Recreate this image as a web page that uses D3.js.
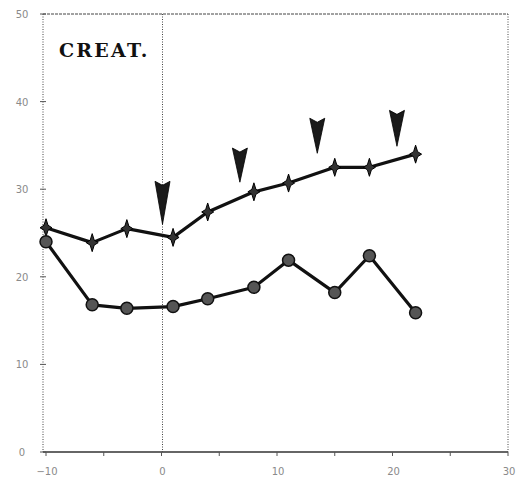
<!DOCTYPE html>
<html>
<head>
<meta charset="utf-8">
<script src="https://cdn.jsdelivr.net/npm/d3@7"></script>
<style>
  body { margin: 0; background: #fff; }
  .tick-label { font-family: "DejaVu Sans", sans-serif; font-size: 10px; fill: #8a8a8a; }
</style>
</head>
<body>
<div id="chart"></div>
<script>
// days relative to event, and the two CREAT. series
var days = [-10, -6, -3, 1, 4, 8, 11, 15, 18, 22];
var upperSeries = [25.6, 23.9, 25.5, 24.5, 27.4, 29.7, 30.7, 32.5, 32.5, 34.0];
var lowerSeries = [24.0, 16.8, 16.4, 16.6, 17.5, 18.8, 21.9, 18.2, 22.4, 15.9];

// arrow annotations: day, tip level, top level
var arrowDays = [0, 6.7, 13.4, 20.3];
var arrowTips = [26.0, 30.8, 34.1, 34.9];
var arrowTops = [30.9, 34.7, 38.1, 39.0];

var xTicks = [-10, 0, 10, 20, 30];
var xMinorTicks = [-10, -5, 0, 5, 10, 15, 20, 25, 30];
var yTicks = [0, 10, 20, 30, 40, 50];

window.onload = function () {
    const width = 517;
    const height = 483;

    var svg = d3.select('#chart').append('svg')
        .attr('width', width)
        .attr('height', height);

    var x = d3.scaleLinear().domain([-10, 30]).range([46, 508]);
    var y = d3.scaleLinear().domain([0, 50]).range([452, 14]);

    // frame (dotted, like the scan)
    var frame = svg.append('g')
        .attr('stroke', '#444')
        .attr('stroke-width', 1)
        .attr('fill', 'none');
    frame.append('line')
        .attr('x1', x(-10) - 3).attr('x2', x(30))
        .attr('y1', y(50)).attr('y2', y(50))
        .attr('stroke-dasharray', '3,1');
    frame.append('line')
        .attr('x1', x(-10) - 3).attr('x2', x(-10) - 3)
        .attr('y1', y(50)).attr('y2', y(0))
        .attr('stroke-dasharray', '1,1.5');
    frame.append('line')
        .attr('x1', x(30)).attr('x2', x(30))
        .attr('y1', y(50)).attr('y2', y(0))
        .attr('stroke-dasharray', '1,1.5');
    frame.append('line')
        .attr('x1', x(0) + 1).attr('x2', x(0) + 1)
        .attr('y1', y(50)).attr('y2', y(0))
        .attr('stroke-dasharray', '1,1.5');

    // bottom axis
    svg.append('line')
        .attr('x1', x(-10) - 3).attr('x2', x(30))
        .attr('y1', y(0)).attr('y2', y(0))
        .attr('stroke', '#333')
        .attr('stroke-width', 1.3);

    svg.selectAll('.xminor').data(xMinorTicks).enter().append('line')
        .attr('class', 'xminor')
        .attr('x1', function (d) { return x(d); })
        .attr('x2', function (d) { return x(d); })
        .attr('y1', y(0))
        .attr('y2', y(0) + 4)
        .attr('stroke', '#555');

    svg.selectAll('.yminor').data(yTicks).enter().append('line')
        .attr('class', 'yminor')
        .attr('x1', x(-10) - 6)
        .attr('x2', x(-10))
        .attr('y1', function (d) { return y(d); })
        .attr('y2', function (d) { return y(d); })
        .attr('stroke', '#555');

    // tick labels
    svg.selectAll('.xlab').data(xTicks).enter().append('text')
        .attr('class', 'tick-label')
        .attr('x', function (d) { return x(d) + 1; })
        .attr('y', 475)
        .attr('text-anchor', 'middle')
        .text(function (d) { return d < 0 ? '\u2212' + Math.abs(d) : d; });

    svg.selectAll('.ylab').data(yTicks).enter().append('text')
        .attr('class', 'tick-label')
        .attr('x', 22)
        .attr('y', function (d) { return y(d) + 4; })
        .attr('text-anchor', 'middle')
        .text(function (d) { return d; });

    // title
    svg.append('text')
        .attr('x', 59)
        .attr('y', 57)
        .attr('font-family', '"DejaVu Serif", serif')
        .attr('font-weight', 'bold')
        .attr('font-size', 19)
        .attr('letter-spacing', 2.2)
        .attr('fill', '#111')
        .text('CREAT.');

    // arrows
    var arrows = arrowDays.map(function (d, i) { return [d, arrowTips[i], arrowTops[i]]; });
    svg.selectAll('.arrow').data(arrows).enter().append('path')
        .attr('class', 'arrow')
        .attr('d', function (d) {
            var tx = x(d[0]) + 1, ty = y(d[1]), top = y(d[2]);
            return 'M' + tx + ',' + ty +
                'L' + (tx - 7.5) + ',' + top +
                'L' + tx + ',' + (top + 4) +
                'L' + (tx + 7.5) + ',' + top + 'Z';
        })
        .attr('fill', '#1a1a1a')
        .attr('stroke', '#000')
        .attr('stroke-width', 0.8);

    var line = d3.line()
        .x(function (d) { return x(d[0]); })
        .y(function (d) { return y(d[1]); });

    var upper = days.map(function (d, i) { return [d, upperSeries[i]]; });
    var lower = days.map(function (d, i) { return [d, lowerSeries[i]]; });

    [upper, lower].forEach(function (s) {
        svg.append('path')
            .datum(s)
            .attr('d', line)
            .attr('fill', 'none')
            .attr('stroke', '#111')
            .attr('stroke-width', 3.2)
            .attr('stroke-linejoin', 'round');
    });

    // star markers on the upper series
    var star = 'M0,-9L2,-2.5L6,0L2,2.5L0,9L-2,2.5L-6,0L-2,-2.5Z';
    svg.selectAll('.star').data(upper).enter().append('path')
        .attr('class', 'star')
        .attr('transform', function (d) { return 'translate(' + x(d[0]) + ',' + y(d[1]) + ')'; })
        .attr('d', star)
        .attr('fill', '#333')
        .attr('stroke', '#000')
        .attr('stroke-width', 1);

    // circle markers on the lower series
    svg.selectAll('.dot').data(lower).enter().append('circle')
        .attr('class', 'dot')
        .attr('cx', function (d) { return x(d[0]); })
        .attr('cy', function (d) { return y(d[1]); })
        .attr('r', 6)
        .attr('fill', '#555')
        .attr('stroke', '#111')
        .attr('stroke-width', 1.5);
};
</script>
</body>
</html>
